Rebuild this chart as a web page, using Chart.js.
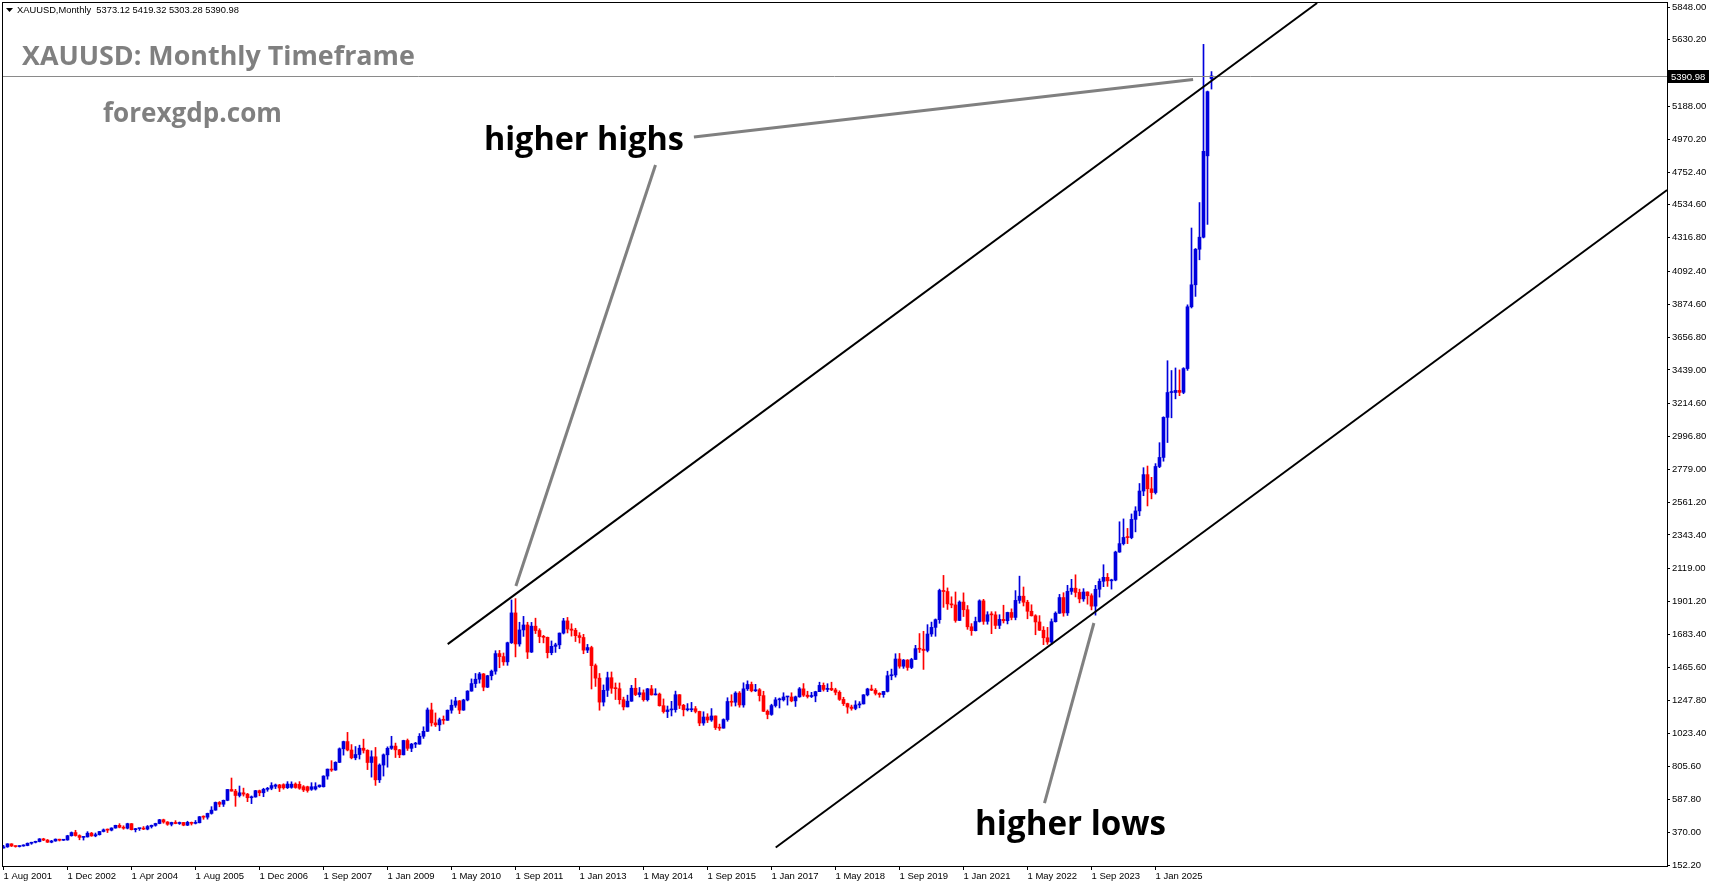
<!DOCTYPE html>
<html>
<head>
<meta charset="utf-8">
<title>XAUUSD Monthly</title>
<script src="https://cdn.jsdelivr.net/npm/chart.js@4.4.1/dist/chart.umd.min.js"></script>
<style>
  html, body { margin: 0; padding: 0; background: #fff; overflow: hidden; }
  #mycanvas { display: block; }
</style>
</head>
<body>
<canvas id="mycanvas" width="1713" height="888"></canvas>
<script>
// monthly candles, bar 0 = Aug 2001 ... last bar = current month
var opens = [
  265, 273, 293, 279, 275,
  279, 282, 297, 303, 308, 326, 318, 304, 312, 324, 317, 319,
  347, 368, 348, 336, 339, 364, 346, 354, 375, 386, 384, 398,
  416, 403, 397, 427, 387, 394, 395, 391, 408, 416, 428, 453,
  438, 423, 435, 428, 435, 417, 436, 429, 433, 473, 470, 495,
  517, 568, 556, 582, 654, 643, 614, 632, 623, 599, 604, 646,
  632, 655, 662, 675, 684, 686, 666, 668, 690, 688, 672, 672, 655, 657, 672,
  672, 743, 789, 783,
  834, 924, 972, 916, 864, 886, 928, 914, 833, 871, 718, 816,
  884, 927, 942, 917, 884, 979, 927, 955, 955, 1007, 1040, 1182,
  1096, 1083, 1117, 1113, 1180, 1213, 1242, 1181, 1248, 1307, 1357, 1386,
  1421, 1333, 1409, 1439, 1556, 1536, 1501, 1628, 1826, 1620, 1713, 1746,
  1566, 1738, 1709, 1669, 1664, 1562, 1604, 1614, 1692, 1773, 1719, 1711,
  1675, 1663, 1579, 1596, 1476, 1393, 1234, 1312, 1396, 1326, 1323, 1250,
  1202, 1240, 1326, 1284, 1296, 1250, 1322, 1282, 1287, 1210, 1171, 1182,
  1184, 1283, 1213, 1183, 1183, 1190, 1172, 1095, 1135, 1115, 1142, 1065,
  1061, 1118, 1238, 1233, 1294, 1215, 1322, 1351, 1309, 1316, 1277, 1173,
  1152, 1211, 1249, 1249, 1268, 1268, 1242, 1269, 1322, 1280, 1271, 1275,
  1303, 1345, 1318, 1325, 1315, 1299, 1252, 1224, 1201, 1192, 1215, 1222,
  1282, 1321, 1313, 1292, 1284, 1305, 1409, 1414, 1520, 1472, 1513, 1464,
  1517, 1589, 1585, 1577, 1686, 1730, 1781, 1975, 1968, 1886, 1879, 1776,
  1898, 1847, 1734, 1708, 1769, 1906, 1770, 1814, 1813, 1743, 1783, 1774,
  1829, 1796, 1909, 1937, 1897, 1837, 1807, 1766, 1711, 1661, 1633, 1768,
  1824, 1928, 1826, 1969, 1990, 1962, 1919, 1965, 1940, 1871, 1983, 2036,
  2062, 2039, 2044, 2230, 2286, 2327, 2326, 2447, 2503, 2635, 2744, 2650,
  2625, 2798, 2858, 3124, 3289, 3289, 3303, 3290, 3448, 3858, 4004, 4240,
  4320, 4860, 5373.12
];
var highs = [
  283, 294, 294, 280, 281,
  287, 299, 304, 311, 328, 330, 322, 316, 326, 324, 323, 350,
  372, 383, 353, 341, 374, 369, 365, 376, 392, 392, 400, 417,
  427, 413, 430, 428, 396, 396, 408, 415, 418, 430, 456, 457,
  441, 437, 447, 438, 436, 443, 438, 448, 475, 479, 497, 540,
  571, 574, 584, 654, 730, 655, 677, 663, 628, 611, 648, 650,
  662, 668, 699, 690, 688, 692, 706, 705, 698, 706, 680, 676, 699, 699, 684,
  745, 790, 845, 838,
  930, 975, 1033, 952, 939, 948, 988, 918, 911, 933, 824, 890,
  937, 1007, 962, 920, 981, 989, 960, 967, 1025, 1070, 1195, 1227,
  1162, 1128, 1142, 1182, 1249, 1266, 1245, 1253, 1310, 1388, 1424, 1431,
  1424, 1412, 1447, 1575, 1577, 1560, 1632, 1912, 1921, 1764, 1803, 1764,
  1763, 1791, 1721, 1677, 1666, 1640, 1625, 1693, 1790, 1796, 1754, 1724,
  1695, 1684, 1617, 1605, 1487, 1424, 1348, 1433, 1434, 1361, 1361, 1267,
  1280, 1345, 1392, 1331, 1315, 1325, 1345, 1323, 1294, 1255, 1208, 1239,
  1307, 1284, 1219, 1224, 1232, 1205, 1174, 1170, 1157, 1191, 1142, 1088,
  1123, 1263, 1283, 1303, 1304, 1362, 1375, 1367, 1352, 1324, 1306, 1182,
  1220, 1264, 1261, 1296, 1272, 1296, 1274, 1331, 1357, 1306, 1299, 1306,
  1366, 1361, 1356, 1366, 1326, 1309, 1266, 1227, 1214, 1243, 1237, 1284,
  1326, 1347, 1324, 1296, 1306, 1439, 1453, 1555, 1557, 1517, 1516, 1525,
  1611, 1689, 1704, 1748, 1765, 1786, 1984, 2075, 1992, 1933, 1965, 1906,
  1959, 1875, 1755, 1798, 1913, 1916, 1834, 1834, 1834, 1814, 1877, 1831,
  1853, 1974, 2070, 1998, 1910, 1880, 1814, 1808, 1735, 1730, 1786, 1833,
  1949, 1960, 2009, 2049, 2079, 1984, 1987, 1966, 1953, 2009, 2052, 2146,
  2088, 2050, 2236, 2431, 2450, 2387, 2483, 2531, 2685, 2790, 2801, 2726,
  2817, 2956, 3128, 3500, 3435, 3452, 3439, 3454, 3871, 4381, 4245, 4550,
  5600, 5290, 5419.32
];
var lows = [
  265, 270, 275, 271, 272,
  277, 280, 290, 299, 306, 314, 302, 300, 310, 312, 315, 317,
  344, 344, 320, 318, 338, 343, 340, 351, 372, 368, 379, 397,
  399, 390, 392, 385, 372, 382, 387, 386, 398, 410, 426, 430,
  416, 412, 426, 422, 413, 414, 418, 425, 432, 456, 457, 490,
  516, 539, 541, 579, 643, 542, 604, 610, 573, 560, 603, 612,
  606, 642, 652, 660, 640, 656, 660, 662, 662, 655, 640, 636, 648, 650, 668,
  670, 722, 774, 781,
  832, 882, 910, 857, 851, 856, 896, 786, 736, 681, 700, 743,
  802, 920, 866, 865, 883, 913, 905, 932, 954, 993, 1039, 1075,
  1072, 1044, 1088, 1113, 1160, 1199, 1157, 1179, 1242, 1306, 1331, 1360,
  1309, 1330, 1381, 1419, 1462, 1478, 1478, 1623, 1534, 1605, 1670, 1523,
  1563, 1689, 1628, 1627, 1527, 1548, 1564, 1588, 1686, 1693, 1672, 1636,
  1626, 1555, 1562, 1321, 1338, 1180, 1208, 1271, 1292, 1251, 1221, 1182,
  1202, 1239, 1277, 1268, 1240, 1241, 1280, 1281, 1207, 1161, 1131, 1142,
  1167, 1191, 1142, 1175, 1170, 1162, 1077, 1080, 1098, 1106, 1052, 1046,
  1061, 1107, 1207, 1208, 1200, 1200, 1311, 1302, 1304, 1241, 1171, 1123,
  1146, 1201, 1195, 1241, 1214, 1236, 1205, 1266, 1271, 1261, 1264, 1236,
  1303, 1307, 1303, 1310, 1282, 1245, 1211, 1160, 1180, 1183, 1196, 1221,
  1275, 1310, 1281, 1266, 1266, 1301, 1382, 1400, 1459, 1458, 1445, 1456,
  1517, 1563, 1451, 1567, 1670, 1671, 1757, 1863, 1849, 1860, 1764, 1775,
  1802, 1717, 1677, 1706, 1765, 1750, 1751, 1688, 1721, 1722, 1759, 1753,
  1780, 1780, 1890, 1872, 1787, 1805, 1681, 1709, 1615, 1617, 1616, 1765,
  1823, 1804, 1809, 1949, 1932, 1893, 1903, 1884, 1846, 1811, 1931, 2000,
  2002, 1984, 2039, 2228, 2277, 2286, 2318, 2364, 2471, 2604, 2536, 2583,
  2615, 2790, 2833, 2957, 3121, 3247, 3268, 3281, 3436, 3850, 3927, 4170,
  4315, 4405, 5303.28
];
var closes = [
  273, 293, 279, 275, 279,
  282, 297, 303, 308, 326, 318, 304, 312, 324, 317, 319, 347,
  368, 348, 336, 339, 364, 346, 354, 375, 386, 384, 398, 416,
  403, 397, 427, 387, 394, 395, 391, 408, 416, 428, 453, 438,
  423, 435, 428, 435, 417, 436, 429, 433, 473, 470, 495, 517,
  568, 556, 582, 654, 643, 614, 632, 623, 599, 604, 646, 632,
  655, 662, 680, 684, 664, 665, 690, 689, 667, 662, 651, 647, 672, 673, 683,
  743, 789, 783, 834,
  924, 972, 916, 864, 886, 928, 914, 833, 871, 718, 816, 884,
  927, 942, 917, 884, 979, 927, 955, 955, 1007, 1040, 1182, 1096,
  1083, 1117, 1113, 1180, 1213, 1242, 1181, 1248, 1307, 1357, 1386, 1421,
  1333, 1409, 1439, 1556, 1536, 1501, 1628, 1826, 1620, 1713, 1746, 1566,
  1738, 1709, 1669, 1664, 1562, 1604, 1614, 1692, 1773, 1719, 1711, 1675,
  1663, 1579, 1596, 1476, 1393, 1234, 1312, 1396, 1326, 1323, 1250, 1202,
  1240, 1326, 1284, 1296, 1250, 1322, 1282, 1287, 1210, 1171, 1182, 1184,
  1283, 1213, 1183, 1183, 1190, 1172, 1095, 1135, 1115, 1142, 1065, 1061,
  1118, 1238, 1233, 1294, 1215, 1322, 1351, 1309, 1316, 1277, 1173, 1152,
  1211, 1249, 1249, 1268, 1268, 1242, 1269, 1322, 1280, 1271, 1275, 1303,
  1345, 1318, 1325, 1315, 1299, 1252, 1224, 1201, 1192, 1215, 1222, 1282,
  1321, 1313, 1292, 1284, 1305, 1409, 1414, 1520, 1472, 1513, 1464, 1517,
  1589, 1585, 1577, 1686, 1730, 1781, 1975, 1968, 1886, 1879, 1776, 1898,
  1847, 1734, 1708, 1769, 1906, 1770, 1814, 1813, 1743, 1783, 1774, 1829,
  1796, 1909, 1937, 1897, 1837, 1807, 1766, 1711, 1661, 1633, 1768, 1824,
  1928, 1826, 1969, 1990, 1962, 1919, 1965, 1940, 1871, 1983, 2036, 2062,
  2039, 2044, 2230, 2286, 2327, 2326, 2447, 2503, 2635, 2744, 2650, 2625,
  2798, 2858, 3124, 3289, 3289, 3303, 3290, 3448, 3858, 4004, 4240, 4320,
  4890, 5286, 5390.98
];

// time axis labels (bar number -> date text)
var xTickBars = [0, 16, 32, 48, 64, 80, 96, 112, 128, 144, 160, 176, 192, 208, 224, 240, 256, 272, 288];
var xTickLabels = ['1 Aug 2001', '1 Dec 2002', '1 Apr 2004', '1 Aug 2005', '1 Dec 2006', '1 Sep 2007',
  '1 Jan 2009', '1 May 2010', '1 Sep 2011', '1 Jan 2013', '1 May 2014', '1 Sep 2015', '1 Jan 2017',
  '1 May 2018', '1 Sep 2019', '1 Jan 2021', '1 May 2022', '1 Sep 2023', '1 Jan 2025'];
var yTickValues = [152.20, 370.00, 587.80, 805.60, 1023.40, 1247.80, 1465.60, 1683.40, 1901.20, 2119.00,
  2343.40, 2561.20, 2779.00, 2996.80, 3214.60, 3439.00, 3656.80, 3874.60, 4092.40, 4316.80, 4534.60,
  4752.40, 4970.20, 5188.00, 5410.40, 5630.20, 5848.00];

// drawn objects, in [bar, price]
var channelLines = [
  [[111.05, 1619], [328.4, 5874.5]],
  [[193.05, 268.8], [415.9, 4633]]
];
var pointerLines = [
  [[172.6, 4985], [297.4, 5366.7]],
  [[163.0, 4799], [128.1, 2004]],
  [[272.6, 1759], [260.25, 564]]
];
var noteTexts = [
  { text: 'higher highs', at: [120.1, 4899], width: 200 },
  { text: 'higher lows', at: [242.9, 351.6], width: 191 }
];

var upColor = '#0000dd';
var downColor = '#ff0000';
var symbolLine = 'XAUUSD,Monthly  ' + opens[opens.length - 1].toFixed(2) + ' ' + highs[highs.length - 1].toFixed(2) + ' ' +
  lows[lows.length - 1].toFixed(2) + ' ' + closes[closes.length - 1].toFixed(2);

function fitFont(ctx, text, width, weight, family) {
  ctx.font = weight + ' 100px ' + family;
  var size = 100 * width / ctx.measureText(text).width;
  return weight + ' ' + size.toFixed(2) + 'px ' + family;
}

var wicks = [], bodies = [], colors = [];
for (var i = 0; i < closes.length; i++) {
  wicks.push({ x: i, y: [lows[i], highs[i]] });
  bodies.push({ x: i, y: [opens[i], closes[i]] });
  colors.push(closes[i] >= opens[i] ? upColor : downColor);
}

var overlay = {
  id: 'overlay',
  afterDatasetsDraw: function(chart) {
    var ctx = chart.ctx, a = chart.chartArea, xs = chart.scales.x, ys = chart.scales.y;
    function pt(p) { return [xs.getPixelForValue(p[0]), ys.getPixelForValue(p[1])]; }
    function seg(s) {
      var p0 = pt(s[0]), p1 = pt(s[1]);
      ctx.beginPath(); ctx.moveTo(p0[0], p0[1]); ctx.lineTo(p1[0], p1[1]); ctx.stroke();
    }
    ctx.save();
    ctx.beginPath();
    ctx.rect(a.left, a.top, a.right - a.left, a.bottom - a.top);
    ctx.clip();

    // bid line
    var yb = Math.round(ys.getPixelForValue(closes[closes.length - 1])) + 0.5;
    ctx.strokeStyle = '#8a8a8a';
    ctx.lineWidth = 1;
    ctx.beginPath(); ctx.moveTo(a.left, yb); ctx.lineTo(a.right, yb); ctx.stroke();

    ctx.strokeStyle = '#000';
    ctx.lineWidth = 2;
    channelLines.forEach(seg);

    ctx.strokeStyle = '#808080';
    ctx.lineWidth = 3;
    pointerLines.forEach(seg);

    ctx.fillStyle = '#000';
    ctx.textBaseline = 'alphabetic';
    ctx.textAlign = 'left';
    noteTexts.forEach(function(n) {
      var p = pt(n.at);
      ctx.font = fitFont(ctx, n.text, n.width, 'bold', '"Open Sans"');
      ctx.fillText(n.text, p[0], p[1]);
    });

    // chart labels
    ctx.fillStyle = '#808080';
    ctx.font = fitFont(ctx, 'XAUUSD: Monthly Timeframe', 393, 'bold', '"Open Sans"');
    ctx.fillText('XAUUSD: Monthly Timeframe', a.left + 20, a.top + 63);
    ctx.font = fitFont(ctx, 'forexgdp.com', 179, 'bold', '"Open Sans"');
    ctx.fillText('forexgdp.com', a.left + 101, a.top + 120);
    ctx.restore();
  },
  afterDraw: function(chart) {
    var ctx = chart.ctx, a = chart.chartArea, ys = chart.scales.y;
    ctx.save();
    ctx.strokeStyle = '#000';
    ctx.lineWidth = 1;
    ctx.strokeRect(a.left + 0.5, a.top + 0.5, a.right - a.left, a.bottom - a.top);

    // header line
    ctx.fillStyle = '#000';
    ctx.beginPath();
    ctx.moveTo(a.left + 4, a.top + 6); ctx.lineTo(a.left + 11, a.top + 6); ctx.lineTo(a.left + 7.5, a.top + 10);
    ctx.closePath(); ctx.fill();
    ctx.font = fitFont(ctx, symbolLine, 222, 'normal', '"Liberation Sans"');
    ctx.textBaseline = 'alphabetic';
    ctx.fillText(symbolLine, a.left + 15, a.top + 11);

    // current price box
    var yb = Math.round(ys.getPixelForValue(closes[closes.length - 1]));
    ctx.fillStyle = '#000';
    ctx.fillRect(a.right + 1, yb - 6, 41, 13);
    ctx.fillStyle = '#fff';
    ctx.font = '9.5px "Liberation Sans"';
    ctx.textBaseline = 'middle';
    ctx.fillText(closes[closes.length - 1].toFixed(2), a.right + 4, yb + 1);
    ctx.restore();
  }
};

Chart.defaults.font.family = '"Liberation Sans", sans-serif';
Chart.defaults.color = '#000';

var ctx = document.getElementById('mycanvas');
var chart = new Chart(ctx, {
  type: 'bar',
  data: {
    datasets: [
      { data: bodies, backgroundColor: colors, borderWidth: 0, barThickness: 3, minBarLength: 1, grouped: false },
      { data: wicks, backgroundColor: colors, borderWidth: 0, barThickness: 1, grouped: false }
    ]
  },
  options: {
    responsive: false,
    animation: false,
    events: [],
    layout: { padding: { left: 2, top: 2, right: 0, bottom: 0 } },
    plugins: { legend: { display: false }, tooltip: { enabled: false } },
    scales: {
      x: {
        type: 'linear',
        offset: false,
        min: -0.375,
        max: 415.875,
        afterBuildTicks: function(s) { s.ticks = xTickBars.map(function(v) { return { value: v }; }); },
        afterFit: function(s) { s.height = 22; s.paddingLeft = 0; s.paddingRight = 0; },
        ticks: {
          callback: function(v, idx) { return xTickLabels[idx]; },
          align: 'start', maxRotation: 0, autoSkip: false, padding: 1,
          font: { size: 9.5 }, color: '#000'
        },
        grid: { drawOnChartArea: false, drawTicks: true, tickLength: 4, color: '#000', offset: false },
        border: { display: false }
      },
      y: {
        position: 'right',
        min: 146,
        max: 5881.2,
        afterBuildTicks: function(s) { s.ticks = yTickValues.map(function(v) { return { value: v }; }); },
        afterFit: function(s) { s.width = 46; s.paddingTop = 0; s.paddingBottom = 0; },
        ticks: {
          callback: function(v) { return v.toFixed(2); },
          autoSkip: false, padding: 2, font: { size: 9.5 }, color: '#000'
        },
        grid: { drawOnChartArea: false, drawTicks: true, tickLength: 3, color: '#000' },
        border: { display: false }
      }
    }
  },
  plugins: [overlay]
});
</script>
</body>
</html>
